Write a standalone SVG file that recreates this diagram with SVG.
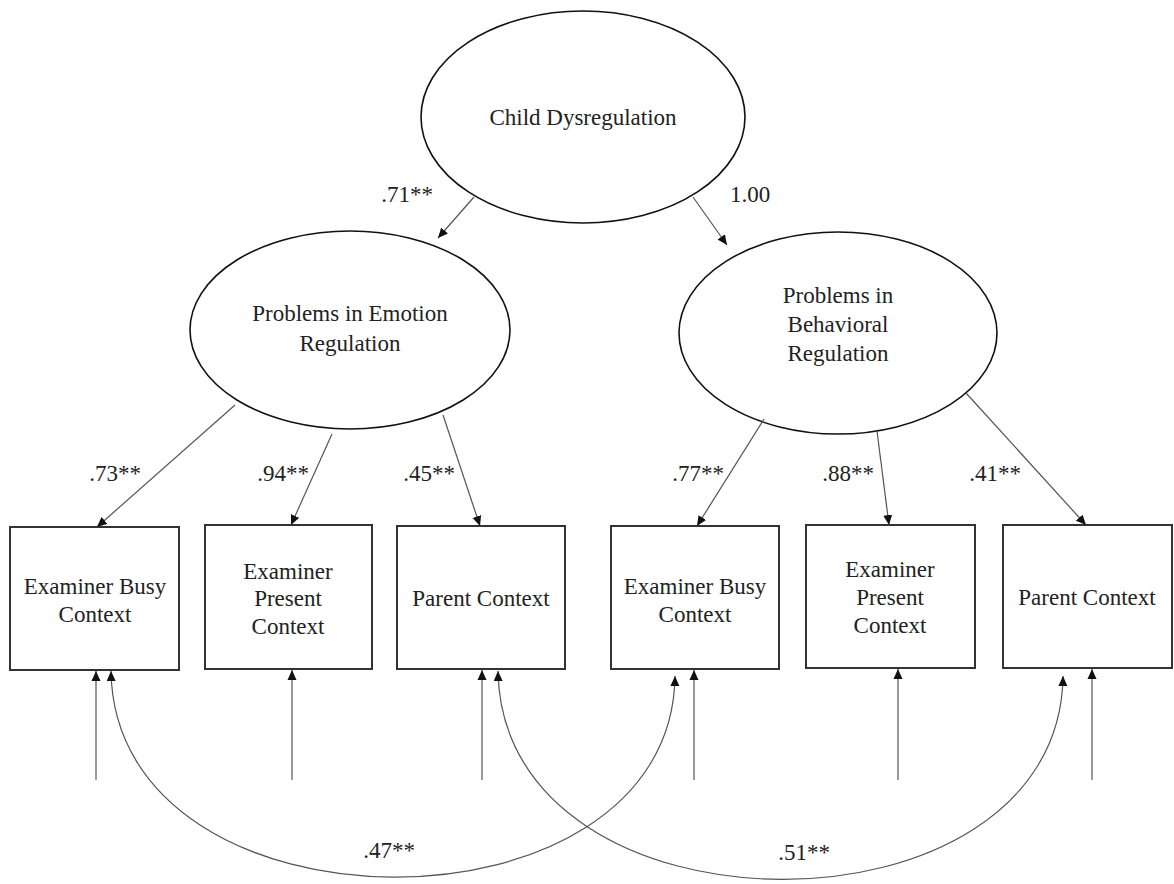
<svg xmlns="http://www.w3.org/2000/svg" width="1174" height="884" viewBox="0 0 1174 884">
<style>
text{font-family:"Liberation Serif","Times New Roman",serif;font-size:23px;fill:#222;text-anchor:middle}
.ell{fill:#fff;stroke:#111;stroke-width:1.6}
.box{fill:#fff;stroke:#333;stroke-width:2}
.con{fill:none;stroke:#555;stroke-width:1.2;marker-end:url(#ah)}
.cov{fill:none;stroke:#555;stroke-width:1.2;marker-end:url(#ah);marker-start:url(#ahs)}
</style>
<defs>
<marker id="ah" viewBox="0 0 10 10" refX="10" refY="5" markerWidth="10" markerHeight="10" markerUnits="userSpaceOnUse" orient="auto">
<path d="M0,0.5 L10,5 L0,9.5 Z" fill="#111"/>
</marker>
<marker id="ahs" viewBox="0 0 10 10" refX="0" refY="5" markerWidth="10" markerHeight="10" markerUnits="userSpaceOnUse" orient="auto">
<path d="M10,0.5 L0,5 L10,9.5 Z" fill="#111"/>
</marker>
</defs>
<g id="n-child"><ellipse class="ell" cx="583" cy="117" rx="162" ry="106"/><text x="583" y="125">Child Dysregulation</text></g>
<g id="n-emotion"><ellipse class="ell" cx="350" cy="330" rx="160" ry="99"/><text x="350" y="321">Problems in Emotion</text><text x="350" y="351">Regulation</text></g>
<g id="n-behav"><ellipse class="ell" cx="838" cy="333" rx="159" ry="101"/><text x="838" y="303">Problems in</text><text x="838" y="332">Behavioral</text><text x="838" y="361">Regulation</text></g>
<g id="b1"><rect class="box" x="10" y="527" width="169" height="143"/><text x="95" y="594">Examiner Busy</text><text x="95" y="622">Context</text></g>
<g id="b2"><rect class="box" x="205" y="525" width="167" height="144"/><text x="288" y="579">Examiner</text><text x="288" y="606">Present</text><text x="288" y="634">Context</text></g>
<g id="b3"><rect class="box" x="397" y="526" width="168" height="143"/><text x="481" y="606">Parent Context</text></g>
<g id="b4"><rect class="box" x="611" y="526" width="168" height="143"/><text x="695" y="594">Examiner Busy</text><text x="695" y="622">Context</text></g>
<g id="b5"><rect class="box" x="806" y="525" width="169" height="143"/><text x="890" y="577">Examiner</text><text x="890" y="605">Present</text><text x="890" y="633">Context</text></g>
<g id="b6"><rect class="box" x="1003" y="525" width="169" height="143"/><text x="1087" y="605">Parent Context</text></g>
<g id="connectors">
<line class="con" x1="474" y1="197" x2="438" y2="238"/>
<line class="con" x1="693" y1="197" x2="727" y2="245"/>
<line class="con" x1="235" y1="405" x2="97" y2="527"/>
<line class="con" x1="332" y1="434" x2="291" y2="525"/>
<line class="con" x1="443" y1="415" x2="480" y2="526"/>
<line class="con" x1="764" y1="419" x2="697" y2="526"/>
<line class="con" x1="877" y1="431" x2="889" y2="525"/>
<line class="con" x1="966" y1="393" x2="1086" y2="525"/>
<line class="con" x1="96" y1="780" x2="96" y2="671"/>
<line class="con" x1="292" y1="780" x2="292" y2="670"/>
<line class="con" x1="482" y1="780" x2="482" y2="670"/>
<line class="con" x1="694" y1="780" x2="694" y2="670"/>
<line class="con" x1="898" y1="780" x2="898" y2="669"/>
<line class="con" x1="1092" y1="780" x2="1092" y2="669"/>
<path class="cov" d="M675,676 C672,945 115,945 111,671"/>
<path class="cov" d="M498,671 C502,948 1060,948 1063,676"/>
</g>
<g id="labels">
<text x="407" y="202">.71**</text>
<text x="750" y="202">1.00</text>
<text x="115" y="481">.73**</text>
<text x="283" y="481">.94**</text>
<text x="429" y="481">.45**</text>
<text x="698" y="481">.77**</text>
<text x="848" y="481">.88**</text>
<text x="995" y="481">.41**</text>
<text x="389" y="858">.47**</text>
<text x="804" y="860">.51**</text>
</g>
</svg>
